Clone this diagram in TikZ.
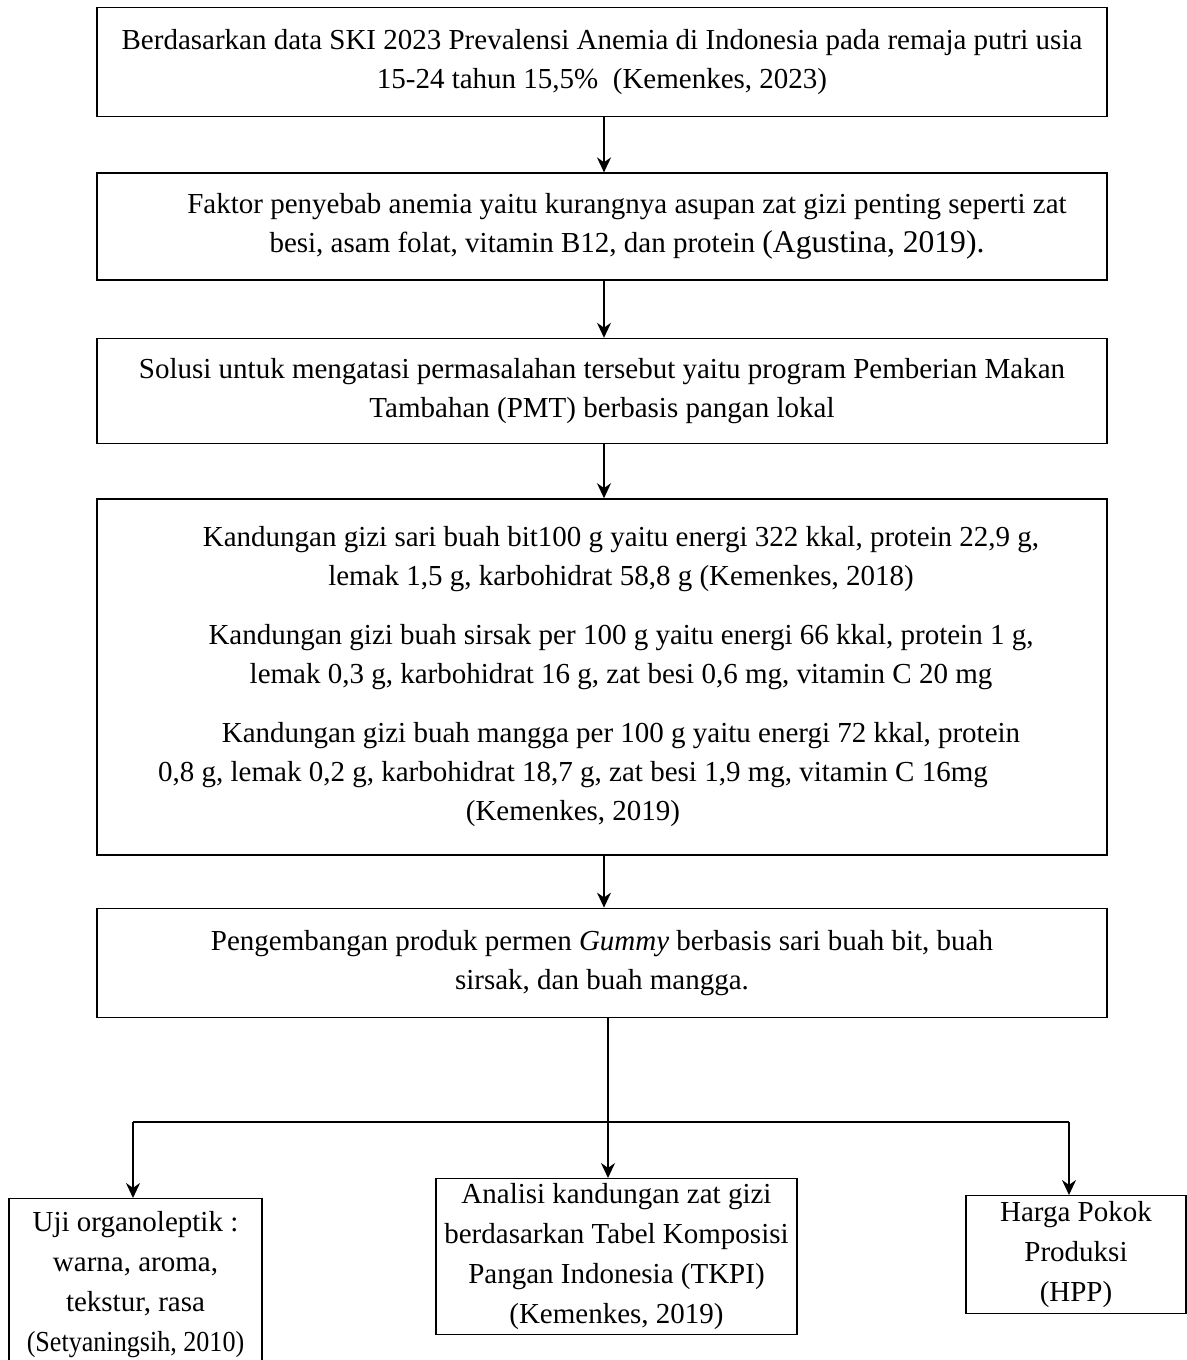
\documentclass[tikz,border=0pt]{standalone}
\usepackage{fontspec}
\setmainfont{Liberation Serif}
\usetikzlibrary{positioning,arrows.meta}

\begin{document}
\begin{tikzpicture}[x=0.5pt, y=-0.5pt,
  box/.style={draw, line width=0.7pt, minimum width=505pt, align=center, inner sep=2pt, font=\fontsize{14.5}{19.5}\selectfont},
  smallbox/.style={draw, line width=0.7pt, align=center, inner sep=2pt, font=\fontsize{14.5}{20}\selectfont},
  link/.style={-{Stealth[length=7.5pt,width=7pt]}, line width=0.7pt}]

  \useasboundingbox (0,0) rectangle (1187,1360);

  % Main column
  \node[box, minimum height=54.5pt, anchor=north] (data) at (602,7) {Berdasarkan data SKI 2023 Prevalensi Anemia di Indonesia pada remaja putri usia\\15-24 tahun 15,5\%~ (Kemenkes, 2023)};
  \node[box, minimum height=53.5pt, below=27.5pt of data] (faktor) {\hspace*{25pt}Faktor penyebab anemia yaitu kurangnya asupan zat gizi penting seperti zat\\\hspace*{25pt}besi, asam folat, vitamin B12, dan protein {\fontsize{15.8}{19.5}\selectfont(Agustina, 2019).}};
  \node[box, minimum height=52.5pt, below=28.5pt of faktor] (solusi) {Solusi untuk mengatasi permasalahan tersebut yaitu program Pemberian Makan\\Tambahan (PMT) berbasis pangan lokal};
  \node[box, minimum height=178pt, below=27pt of solusi] (gizi) {\hspace*{19pt}Kandungan gizi sari buah bit100 g yaitu energi 322 kkal, protein 22,9 g,\\\hspace*{19pt}lemak 1,5 g, karbohidrat 58,8 g (Kemenkes, 2018)\\[10pt]
    \hspace*{19pt}Kandungan gizi buah sirsak per 100 g yaitu energi 66 kkal, protein 1 g,\\\hspace*{19pt}lemak 0,3 g, karbohidrat 16 g, zat besi 0,6 mg, vitamin C 20 mg\\[10pt]
    \hspace*{19pt}Kandungan gizi buah mangga per 100 g yaitu energi 72 kkal, protein\\\hspace*{-29pt}0,8 g, lemak 0,2 g, karbohidrat 18,7 g, zat besi 1,9 mg, vitamin C 16mg\\\hspace*{-29pt}(Kemenkes, 2019)};
  \node[box, minimum height=54.5pt, below=26pt of gizi] (produk) {Pengembangan produk permen \textit{Gummy} berbasis sari buah bit, buah\\sirsak, dan buah mangga.};

  % Bottom row
  \node[smallbox, minimum width=126.5pt, inner ysep=6.5pt, text depth=12pt, anchor=north] (organo) at (135.5,1198) {Uji organoleptik :\\warna, aroma,\\tekstur, rasa\\\scalebox{0.9}[1]{(Setyaningsih, 2010)}};
  \node[smallbox, minimum width=180.5pt, minimum height=78pt, anchor=north] (analisis) at (616.5,1178) {Analisi kandungan zat gizi\\berdasarkan Tabel Komposisi\\Pangan Indonesia (TKPI)\\(Kemenkes, 2019)};
  \node[smallbox, minimum width=110pt, minimum height=59pt, anchor=north] (hpp) at (1076,1195) {Harga Pokok\\Produksi\\(HPP)};

  % Branch points
  \coordinate (split) at (608,1122);
  \coordinate (leftend) at (133,1122);
  \coordinate (rightend) at (1069,1122);

  % Vertical arrows
  \draw[link] ([xshift=1pt]data.south) -- ([xshift=1pt]faktor.north);
  \draw[link] ([xshift=1pt]faktor.south) -- ([xshift=1pt]solusi.north);
  \draw[link] ([xshift=1pt]solusi.south) -- ([xshift=1pt]gizi.north);
  \draw[link] ([xshift=1pt]gizi.south) -- ([xshift=1pt]produk.north);

  % Branches
  \draw[line width=0.7pt] (leftend) -- (rightend);
  \draw[link] (produk.south -| split) -- (analisis.north -| split);
  \draw[link] (leftend) -- (leftend |- organo.north);
  \draw[link] (rightend) -- (rightend |- hpp.north);

\end{tikzpicture}
\end{document}
